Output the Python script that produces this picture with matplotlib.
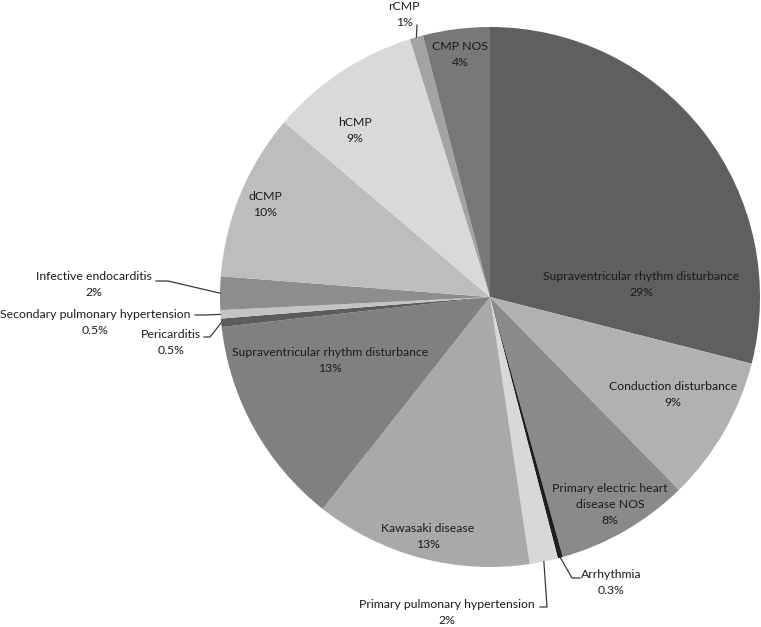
import numpy as np
import matplotlib.pyplot as plt

# slices, clockwise from 12 o'clock
categories = [
    "Supraventricular rhythm disturbance",
    "Conduction disturbance",
    "Primary electric heart\ndisease NOS",
    "Arrhythmia",
    "Primary pulmonary hypertension",
    "Kawasaki disease",
    "Supraventricular rhythm disturbance",
    "Pericarditis",
    "Secondary pulmonary hypertension",
    "Infective endocarditis",
    "dCMP",
    "hCMP",
    "rCMP",
    "CMP NOS",
]
shares = [29, 8.7, 8, 0.3, 1.7, 13, 12.6, 0.5, 0.5, 2, 10, 9, 0.8, 4]
pct_labels = ["29%", "9%", "8%", "0.3%", "2%", "13%", "13%",
              "0.5%", "0.5%", "2%", "10%", "9%", "1%", "4%"]
colors = ["#5f5f5f", "#b1b1b1", "#8a8a8a", "#1e1e1e", "#d8d8d8", "#a9a9a9",
          "#808080", "#5c5c5c", "#c4c4c4", "#8d8d8d", "#bdbdbd", "#d9d9d9",
          "#a3a3a3", "#787878"]

W, H = 761, 627
CX, CY, R = 490, 297, 270
LINE = 16  # px between label lines

# label centres in pixel coords (from top left)
inside_pos = {0: (641, 285), 1: (673, 395), 2: (610, 504), 5: (428, 537),
              6: (330, 360), 10: (265, 205), 11: (355, 130), 13: (460, 55)}
# outside labels: text centre, then leader points before reaching the slice
outside_pos = {
    12: ((404, 15), [(417, 25)]),
    3: ((611, 583), [(580, 578), (572, 578)]),
    4: ((447, 613), [(540, 607), (547, 607)]),
    7: ((171, 342), [(204, 337), (210, 337)]),
    8: ((95, 322), [(195, 315), (205, 315)]),
    9: ((94, 285), [(156, 281), (168, 281)]),
}

fig = plt.figure(figsize=(W / 100, H / 100), dpi=100)
ax = fig.add_axes([0, 0, 1, 1])
wedges, _ = ax.pie(shares, colors=colors, startangle=90, counterclock=False,
                   center=(CX, H - CY), radius=R, wedgeprops=dict(linewidth=0))
ax.set_xlim(0, W)
ax.set_ylim(0, H)
ax.set_aspect("equal")
ax.axis("off")

font = dict(family=["Lato", "DejaVu Sans"], fontsize=8.8, color="#1c1c1c",
            ha="center", va="center")


def edge_point(w):
    th = np.deg2rad((w.theta1 + w.theta2) / 2)
    return CX + R * np.cos(th), H - CY + R * np.sin(th)


def put_label(i, x, y):
    lines = categories[i].split("\n") + [pct_labels[i]]
    top = y - LINE * (len(lines) - 1) / 2
    for k, s in enumerate(lines):
        ax.text(x, H - (top + k * LINE), s, **font)


for i, (x, y) in inside_pos.items():
    put_label(i, x, y)

for i, ((x, y), pts) in outside_pos.items():
    put_label(i, x, y)
    xs = [p[0] for p in pts]
    ys = [H - p[1] for p in pts]
    ex, ey = edge_point(wedges[i])
    ax.plot(xs + [ex], ys + [ey], color="#3a3a3a", lw=0.9)

fig.savefig("out.png", dpi=100)
